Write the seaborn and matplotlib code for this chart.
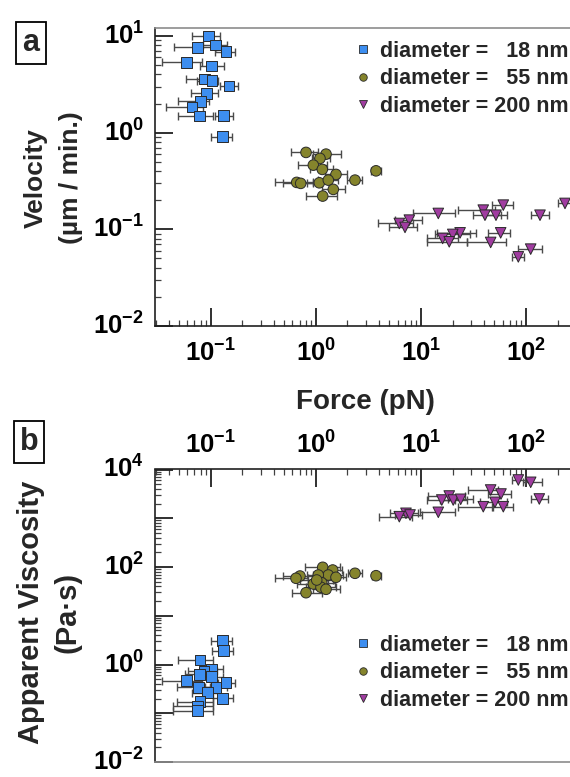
import numpy as np
import pandas as pd
import matplotlib
matplotlib.use("Agg")
import matplotlib.pyplot as plt
import seaborn as sns
from matplotlib.ticker import LogLocator, FixedLocator, FixedFormatter, NullFormatter
from matplotlib.lines import Line2D

# ---------------- data: panel a (velocity vs force) ----------------
force_18_a    = [0.0949, 0.0752, 0.1116, 0.1398, 0.0591, 0.1022, 0.0869, 0.1029, 0.1493, 0.0916, 0.0796, 0.0664, 0.0779, 0.1330, 0.1301]
force_18_a_lo = [0.0659, 0.0448, 0.0845, 0.1099, 0.0342, 0.0791, 0.0578, 0.0736, 0.1226, 0.0645, 0.0489, 0.0373, 0.0489, 0.1099, 0.1000]
force_18_a_hi = [0.1226, 0.1123, 0.1429, 0.1703, 0.0821, 0.1338, 0.1052, 0.1173, 0.1819, 0.1173, 0.0964, 0.0845, 0.1052, 0.1630, 0.1584]
vel_18        = [10.0, 7.64, 8.07, 6.88, 5.34, 4.89, 3.59, 3.45, 3.04, 2.55, 2.11, 1.85, 1.486, 1.50, 0.907]

force_55_a    = [0.807, 1.251, 1.096, 0.947, 1.153, 1.556, 3.74, 2.36, 0.658, 0.718, 1.080, 1.315, 1.467, 1.163]
force_55_a_lo = [0.581, 0.947, 0.914, 0.682, 0.881, 1.223, 3.35, 1.994, 0.409, 0.491, 0.819, 1.056, 1.138, 0.807]
force_55_a_hi = [1.056, 1.726, 1.365, 1.286, 1.467, 1.968, 4.17, 2.77, 0.934, 0.934, 1.365, 1.637, 1.896, 1.581]
vel_55        = [0.625, 0.600, 0.542, 0.462, 0.417, 0.370, 0.403, 0.323, 0.306, 0.299, 0.303, 0.323, 0.259, 0.221]

force_200_a    = [14.64, 7.76, 6.23, 7.06, 39.2, 40.7, 51.8, 60.8, 135.9, 235.0, 23.6, 20.1, 16.1, 18.6, 57.4, 46.1, 110.8, 84.5]
force_200_a_lo = [8.47, 5.67, 3.93, 5.00, 22.7, 31.3, 40.7, 47.2, 111.6, 203.0, 14.14, 13.62, 11.36, 11.36, 43.8, 27.3, 83.4, 73.1]
force_200_a_hi = [21.1, 10.18, 8.47, 9.12, 50.7, 57.8, 65.5, 75.7, 165.5, 269.0, 33.4, 29.3, 22.7, 27.3, 70.4, 64.5, 142.9, 95.7]
vel_200        = [0.146, 0.1245, 0.115, 0.1047, 0.158, 0.140, 0.140, 0.178, 0.140, 0.1854, 0.092, 0.0886, 0.0805, 0.0743, 0.092, 0.0732, 0.0624, 0.0519]

# ---------------- data: panel b (apparent viscosity vs force) ----------------
force_18_b    = [0.1301, 0.1318, 0.0791, 0.1022, 0.0864, 0.0779, 0.1022, 0.0591, 0.1398, 0.0769, 0.1123, 0.0936, 0.1301, 0.0791, 0.0752, 0.0752]
force_18_b_lo = [0.1000, 0.1022, 0.0492, 0.0791, 0.0612, 0.0569, 0.0762, 0.0342, 0.1181, 0.0475, 0.0883, 0.0659, 0.1059, 0.0475, 0.0441, 0.0441]
force_18_b_hi = [0.1584, 0.1630, 0.1059, 0.1318, 0.1141, 0.1059, 0.1318, 0.0821, 0.1703, 0.0985, 0.1420, 0.1207, 0.1619, 0.1059, 0.1059, 0.1059]
visc_18       = [3.08, 1.92, 1.236, 0.798, 0.736, 0.630, 0.562, 0.466, 0.423, 0.340, 0.340, 0.264, 0.203, 0.1726, 0.141, 0.1127]

force_55_b    = [1.163, 1.448, 1.315, 1.056, 1.556, 0.707, 0.648, 0.947, 1.138, 1.120, 1.251, 0.807, 2.36, 3.74, 1.020]
force_55_b_lo = [0.789, 1.223, 0.940, 0.819, 1.270, 0.491, 0.409, 0.658, 0.843, 0.807, 0.947, 0.590, 2.04, 3.40, 0.707]
force_55_b_hi = [1.699, 1.764, 1.815, 1.417, 1.938, 0.983, 0.848, 1.315, 1.523, 1.556, 1.699, 1.138, 2.73, 4.15, 1.457]
visc_55       = [98.6, 86.7, 68.5, 68.5, 61.5, 65.3, 58.7, 44.8, 47.6, 38.4, 34.9, 29.7, 74.3, 66.3, 54.1]

force_200_b    = [84.5, 110.8, 133.8, 46.1, 57.8, 15.8, 18.6, 20.3, 23.9, 39.2, 50.7, 60.8, 14.64, 7.21, 6.23, 7.88]
force_200_b_lo = [73.1, 94.3, 110.8, 27.9, 43.8, 11.36, 11.76, 15.2, 18.2, 22.7, 36.5, 48.9, 9.80, 5.08, 4.02, 5.67]
force_200_b_hi = [97.8, 141.1, 163.0, 54.5, 71.5, 21.1, 26.3, 27.3, 31.5, 47.2, 65.5, 75.7, 21.1, 9.45, 8.18, 10.18]
visc_200       = [6095, 5460, 2485, 3794, 3141, 2366, 2858, 2366, 2449, 1725, 2123, 1725, 1324, 1264, 1077, 1167]

diam_labels = ["diameter =   18 nm", "diameter =   55 nm", "diameter = 200 nm"]
x_tick_vals = [0.1, 1, 10, 100]
x_tick_text = [r"$10^{-1}$", r"$10^{0}$", r"$10^{1}$", r"$10^{2}$"]
ya_tick_vals = [0.01, 0.1, 1, 10]
ya_tick_text = [r"$10^{-2}$", r"$10^{-1}$", r"$10^{0}$", r"$10^{1}$"]
yb_tick_vals = [0.01, 0.1, 1, 10, 100, 1000, 10000]
yb_tick_text = [r"$10^{-2}$", "", r"$10^{0}$", "", r"$10^{2}$", "", r"$10^{4}$"]

# ---------------- style ----------------
sns.set_theme(style="white")
plt.rcParams["font.family"] = ["Liberation Sans", "DejaVu Sans"]
plt.rcParams["font.weight"] = "bold"
plt.rcParams["mathtext.fontset"] = "custom"
plt.rcParams["mathtext.rm"] = "Liberation Sans:bold"
plt.rcParams["mathtext.bf"] = "Liberation Sans:bold"
plt.rcParams["mathtext.it"] = "Liberation Sans:bold"
plt.rcParams["mathtext.default"] = "rm"

colors = {diam_labels[0]: "#3d8ef0", diam_labels[1]: "#85842c", diam_labels[2]: "#a03ca0"}
markers = {diam_labels[0]: "s", diam_labels[1]: "o", diam_labels[2]: "v"}
EDGE = "#2a2a2a"
ERR = "#4a4a4a"


def frame(f, lo, hi, v, label):
    return pd.DataFrame({"force": f, "lo": lo, "hi": hi, "value": v, "diameter": label})


dfa = pd.concat([
    frame(force_18_a, force_18_a_lo, force_18_a_hi, vel_18, diam_labels[0]),
    frame(force_55_a, force_55_a_lo, force_55_a_hi, vel_55, diam_labels[1]),
    frame(force_200_a, force_200_a_lo, force_200_a_hi, vel_200, diam_labels[2]),
], ignore_index=True)
dfb = pd.concat([
    frame(force_18_b, force_18_b_lo, force_18_b_hi, visc_18, diam_labels[0]),
    frame(force_55_b, force_55_b_lo, force_55_b_hi, visc_55, diam_labels[1]),
    frame(force_200_b, force_200_b_lo, force_200_b_hi, visc_200, diam_labels[2]),
], ignore_index=True)

W, H = 570, 777
fig = plt.figure(figsize=(W / 100, H / 100), dpi=100)
ax_a = fig.add_axes([155 / W, 1 - 326 / H, 415 / W, (326 - 28.3) / H])
ax_b = fig.add_axes([155 / W, 1 - 762 / H, 415 / W, (762 - 469.5) / H])


def draw(ax, df):
    for lab in diam_labels:
        d = df[df["diameter"] == lab]
        ax.errorbar(d["force"], d["value"],
                    xerr=[d["force"] - d["lo"], d["hi"] - d["force"]],
                    fmt="none", ecolor=ERR, elinewidth=1.0, capsize=2.8, capthick=1.0, zorder=2)
    sns.scatterplot(data=df, x="force", y="value", hue="diameter", style="diameter",
                    palette=colors, markers=markers, s=58, edgecolor=EDGE, linewidth=0.7,
                    legend=False, ax=ax, zorder=3)
    ax.set_xscale("log")
    ax.set_yscale("log")
    ax.set_xlabel("")
    ax.set_ylabel("")
    ax.set_xlim(0.02951, 262.2)
    ax.xaxis.set_major_locator(FixedLocator(x_tick_vals))
    ax.xaxis.set_major_formatter(FixedFormatter(x_tick_text))
    ax.xaxis.set_minor_locator(LogLocator(base=10, subs=np.arange(2, 10), numticks=20))
    ax.xaxis.set_minor_formatter(NullFormatter())
    ax.yaxis.set_minor_locator(LogLocator(base=10, subs=np.arange(2, 10), numticks=20))
    ax.yaxis.set_minor_formatter(NullFormatter())
    ax.tick_params(which="major", direction="in", length=13, width=1.3, color="#202020",
                   labelsize=18.5, labelcolor="black")
    ax.tick_params(which="minor", direction="in", length=4.5, width=0.9, color="#404040")
    ax.grid(False)
    ax.spines["right"].set_visible(False)
    for s in ax.spines.values():
        s.set_linewidth(1.2)


draw(ax_a, dfa)
ax_a.set_ylim(0.01, 12.02)
ax_a.yaxis.set_major_locator(FixedLocator(ya_tick_vals))
ax_a.yaxis.set_major_formatter(FixedFormatter(ya_tick_text))
ax_a.tick_params(axis="x", which="both", top=False, bottom=True, pad=10)
ax_a.tick_params(axis="y", which="both", left=True, right=False, pad=8)
ax_a.spines["left"].set_color("#202020")
ax_a.spines["bottom"].set_color("#202020")
ax_a.spines["top"].set_color("#8c8c8c")

draw(ax_b, dfb)
ax_b.set_ylim(0.01, 10000)
ax_b.yaxis.set_major_locator(FixedLocator(yb_tick_vals))
ax_b.yaxis.set_major_formatter(FixedFormatter(yb_tick_text))
ax_b.xaxis.tick_top()
ax_b.tick_params(axis="x", which="both", top=True, bottom=False, labeltop=True, labelbottom=False, pad=8)
ax_b.tick_params(axis="y", which="both", left=True, right=False, pad=8)
ax_b.spines["left"].set_color("#202020")
ax_b.spines["top"].set_color("#202020")
ax_b.spines["bottom"].set_color("#8c8c8c")

for lab in ax_a.get_yticklabels() + ax_b.get_yticklabels():
    lab.set_verticalalignment("center")

# legends
def legend(ax, top_px):
    handles = [Line2D([], [], marker=markers[l], ls="none", mfc=colors[l], mec=EDGE,
                      mew=0.6, ms=5.4) for l in diam_labels]
    ax.legend(handles, diam_labels, loc="upper left",
              bbox_to_anchor=(352 / W, 1 - top_px / H), bbox_transform=fig.transFigure,
              frameon=False, fontsize=15.5, handlelength=1.0, handletextpad=0.3,
              labelspacing=0.3, borderpad=0, borderaxespad=0)

legend(ax_a, 41)
legend(ax_b, 635)

# axis labels
fig.text(36 / W, 1 - 178 / H, "Velocity", rotation=90, fontsize=19, ha="center", va="center")
fig.text(71 / W, 1 - 178 / H, "(µm / min.)", rotation=90, fontsize=19, ha="center", va="center")
fig.text(365 / W, 1 - 402 / H, "Force (pN)", fontsize=20, ha="center", va="center")
fig.text(31 / W, 1 - 612 / H, "Apparent Viscosity", rotation=90, fontsize=21, ha="center", va="center")
fig.text(67.5 / W, 1 - 612 / H, "(Pa·s)", rotation=90, fontsize=21, ha="center", va="center")

# panel letters
box = dict(boxstyle="square,pad=0.2", fc="white", ec="black", lw=1.3)
fig.text(31 / W, 1 - 43 / H, "a", fontsize=22, ha="center", va="center", bbox=box)
fig.text(29 / W, 1 - 442 / H, "b", fontsize=22, ha="center", va="center", bbox=box)

fig.savefig("out.png", dpi=100)
